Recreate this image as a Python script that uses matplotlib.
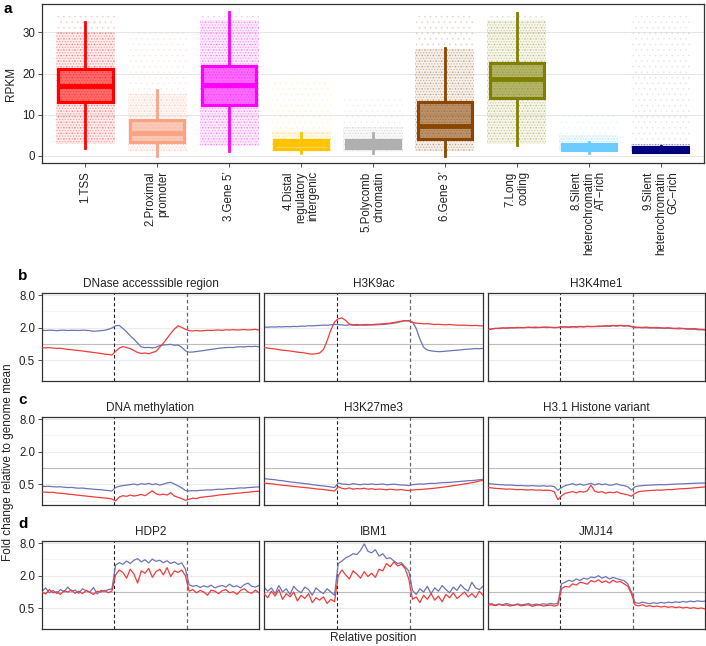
import numpy as np
import matplotlib
matplotlib.use('Agg')
import matplotlib.pyplot as plt

plt.rcParams['font.family'] = ['Liberation Sans', 'DejaVu Sans']
plt.rcParams['hatch.linewidth'] = 0.6

W, H = 706, 646

# ---- panel a: RPKM per chromatin state ----
categories = ['1.TSS', '2.Proximal\npromoter', '3.Gene 5’', '4.Distal\nregulatory\nintergenic',
              '5.Polycomb\nchromatin', '6.Gene 3’', '7.Long\ncoding',
              '8.Silent\nheterochromatin\nAT−rich', '9.Silent\nheterochromatin\nGC−rich']
state_colors = ['#FF0000', '#F9A385', '#FF00FF', '#FFC300', '#AFAFAF',
                '#8B4500', '#808000', '#6CCBFF', '#00007F']
whisker_lo = [2.0, 0.0, 1.3, 0.7, 0.7, 0.0, 2.7, 0.7, 1.0]
q1 = [13.2, 3.3, 12.5, 1.6, 1.9, 4.2, 14.2, 1.4, 1.0]
median = [17.0, 5.5, 17.2, 2.9, 2.9, 7.4, 18.6, 2.2, 1.6]
q3 = [21.0, 8.7, 21.9, 4.0, 3.9, 13.2, 22.6, 2.8, 2.1]
whisker_hi = [32.6, 16.0, 35.0, 5.5, 5.5, 26.1, 34.6, 3.5, 2.5]
# extent of the jittered point clouds
cloud_lo = [3.0, 1.0, 2.5, 1.0, 1.0, 1.2, 3.0, 1.0, 1.0]
dense_hi = [30.0, 15.0, 33.0, 6.0, 7.0, 26.0, 33.0, 5.0, 3.0]
cloud_hi = [35.0, 30.0, 35.0, 19.0, 14.0, 35.0, 35.0, 10.0, 35.0]
cloud_alpha = [0.15, 0.15, 0.15, 0.12, 0.12, 0.15, 0.15, 0.10, 0.07]

# ---- panels b-d: log2 fold change profiles (60 bins, flanks at 0-1 and 2-3) ----
dnase_blue = [0.84, 0.83, 0.85, 0.84, 0.82, 0.84, 0.85, 0.83, 0.84, 0.84, 0.83, 0.85, 0.84, 0.82, 0.78,
              0.80, 0.82, 0.84, 0.90, 0.98, 1.12, 1.14, 0.95, 0.75, 0.50, 0.30, 0.05, -0.18, -0.22, -0.21,
              -0.24, -0.20, -0.10, -0.06, -0.04, -0.02, -0.08, -0.06, -0.20, -0.42, -0.50, -0.49, -0.46, -0.43, -0.40,
              -0.36, -0.33, -0.30, -0.26, -0.24, -0.22, -0.21, -0.22, -0.18, -0.17, -0.18, -0.15, -0.16, -0.14, -0.17]
dnase_red = [-0.22, -0.24, -0.22, -0.25, -0.27, -0.26, -0.30, -0.33, -0.35, -0.38, -0.40, -0.43, -0.46, -0.49, -0.52,
             -0.55, -0.58, -0.62, -0.64, -0.68, -0.45, -0.25, -0.16, -0.22, -0.28, -0.40, -0.52, -0.58, -0.55, -0.60,
             -0.52, -0.45, -0.20, 0.05, 0.35, 0.65, 0.92, 1.12, 1.02, 0.90, 0.82, 0.80, 0.83, 0.80, 0.82,
             0.84, 0.83, 0.85, 0.86, 0.84, 0.87, 0.86, 0.88, 0.86, 0.87, 0.89, 0.86, 0.88, 0.90, 0.86]
h3k9ac_blue = [1.04, 1.03, 1.05, 1.04, 1.06, 1.05, 1.07, 1.06, 1.08, 1.07, 1.10, 1.09, 1.12, 1.11, 1.13,
               1.14, 1.16, 1.15, 1.18, 1.20, 1.19, 1.17, 1.15, 1.18, 1.16, 1.14, 1.17, 1.15, 1.16, 1.18,
               1.17, 1.19, 1.20, 1.22, 1.25, 1.28, 1.32, 1.38, 1.42, 1.43, 1.35, 0.95, 0.30, -0.20, -0.37,
               -0.42, -0.45, -0.47, -0.46, -0.44, -0.42, -0.40, -0.38, -0.36, -0.33, -0.32, -0.30, -0.28, -0.29, -0.27]
h3k9ac_red = [-0.22, -0.25, -0.28, -0.30, -0.35, -0.38, -0.40, -0.43, -0.46, -0.50, -0.52, -0.55, -0.60, -0.62, -0.60,
              -0.55, -0.35, 0.20, 0.85, 1.35, 1.55, 1.60, 1.45, 1.22, 1.18, 1.20, 1.17, 1.19, 1.20, 1.18,
              1.21, 1.22, 1.24, 1.26, 1.28, 1.32, 1.36, 1.40, 1.44, 1.42, 1.33, 1.28, 1.26, 1.24, 1.25,
              1.22, 1.20, 1.21, 1.19, 1.18, 1.20, 1.17, 1.16, 1.15, 1.16, 1.14, 1.13, 1.14, 1.12, 1.11]
h3k4me1_blue = [0.90, 0.93, 0.95, 0.97, 0.98, 0.97, 0.99, 1.00, 0.99, 1.01, 1.00, 1.02, 1.01, 1.00, 1.02,
                1.03, 1.01, 1.02, 1.00, 1.01, 1.03, 1.04, 1.02, 1.05, 1.04, 1.06, 1.05, 1.07, 1.06, 1.08,
                1.07, 1.09, 1.10, 1.08, 1.12, 1.10, 1.13, 1.11, 1.12, 1.06, 1.00, 1.01, 0.99, 1.00, 0.98,
                0.99, 0.97, 0.98, 0.96, 0.97, 0.95, 0.94, 0.93, 0.95, 0.92, 0.90, 0.91, 0.88, 0.87, 0.86]
h3k4me1_red = [0.88, 0.92, 0.96, 0.95, 0.99, 0.98, 1.00, 0.99, 1.02, 1.00, 1.01, 1.03, 1.02, 1.04, 1.01,
               1.03, 1.04, 1.02, 1.01, 1.02, 1.05, 1.06, 1.04, 1.07, 1.05, 1.08, 1.06, 1.09, 1.08, 1.07,
               1.10, 1.09, 1.12, 1.11, 1.14, 1.12, 1.15, 1.10, 1.13, 1.08, 1.04, 1.03, 1.02, 1.04, 1.01,
               1.00, 1.02, 0.99, 0.98, 1.00, 0.97, 0.96, 0.98, 0.95, 0.94, 0.93, 0.95, 0.92, 0.90, 0.89]
dnameth_blue = [-1.12, -1.13, -1.12, -1.15, -1.16, -1.15, -1.18, -1.20, -1.19, -1.22, -1.24, -1.23, -1.26, -1.28, -1.30,
                -1.32, -1.33, -1.36, -1.38, -1.41, -1.20, -1.12, -1.08, -1.05, -1.02, -0.98, -1.04, -0.96, -1.00, -0.94,
                -1.02, -0.97, -1.05, -0.99, -0.92, -0.88, -0.98, -1.10, -1.22, -1.38, -1.41, -1.39, -1.40, -1.37, -1.36,
                -1.34, -1.35, -1.32, -1.30, -1.31, -1.28, -1.26, -1.27, -1.24, -1.22, -1.23, -1.20, -1.19, -1.17, -1.16]
dnameth_red = [-1.47, -1.48, -1.50, -1.49, -1.53, -1.55, -1.57, -1.60, -1.62, -1.65, -1.67, -1.70, -1.72, -1.75, -1.77,
               -1.80, -1.82, -1.84, -1.86, -1.90, -2.02, -1.78, -1.70, -1.74, -1.66, -1.72, -1.68, -1.62, -1.70, -1.55,
               -1.40, -1.58, -1.65, -1.60, -1.66, -1.52, -1.72, -1.80, -1.88, -1.98, -1.92, -1.85, -1.88, -1.80, -1.78,
               -1.75, -1.73, -1.70, -1.66, -1.64, -1.62, -1.60, -1.57, -1.55, -1.53, -1.50, -1.49, -1.46, -1.44, -1.43]
h3k27_blue = [-0.65, -0.68, -0.70, -0.72, -0.76, -0.78, -0.82, -0.85, -0.88, -0.90, -0.93, -0.96, -0.98, -1.02, -1.05,
              -1.08, -1.10, -1.13, -1.16, -1.20, -0.92, -0.98, -1.00, -1.02, -0.96, -1.00, -1.03, -0.98, -1.01, -0.97,
              -1.02, -1.00, -0.98, -1.03, -1.01, -0.99, -1.02, -1.04, -1.05, -1.08, -1.02, -1.00, -0.98, -0.99, -0.96,
              -0.94, -0.95, -0.92, -0.90, -0.89, -0.88, -0.86, -0.84, -0.82, -0.80, -0.78, -0.77, -0.75, -0.72, -0.70]
h3k27_red = [-0.92, -0.95, -0.97, -1.00, -1.03, -1.06, -1.08, -1.10, -1.13, -1.15, -1.18, -1.20, -1.22, -1.25, -1.28,
             -1.30, -1.32, -1.35, -1.38, -1.41, -1.15, -1.25, -1.28, -1.22, -1.30, -1.26, -1.28, -1.24, -1.30, -1.27,
             -1.32, -1.29, -1.31, -1.34, -1.30, -1.33, -1.35, -1.32, -1.36, -1.38, -1.35, -1.33, -1.32, -1.30, -1.28,
             -1.26, -1.24, -1.21, -1.18, -1.15, -1.12, -1.08, -1.05, -1.02, -0.98, -0.94, -0.90, -0.86, -0.80, -0.76]
h31_blue = [-0.96, -0.98, -1.00, -1.02, -1.03, -1.05, -1.04, -1.06, -1.08, -1.07, -1.09, -1.10, -1.08, -1.10, -1.11,
            -1.09, -1.12, -1.10, -1.14, -1.37, -1.20, -1.08, -1.02, -0.96, -1.05, -0.98, -1.06, -1.00, -0.94, -1.04,
            -0.96, -1.02, -0.98, -1.06, -1.03, -0.97, -1.05, -1.08, -1.15, -1.35, -1.15, -1.10, -1.08, -1.06, -1.05,
            -1.04, -1.03, -1.02, -1.03, -1.01, -1.00, -0.99, -0.98, -0.97, -0.96, -0.95, -0.94, -0.93, -0.92, -0.92]
h31_red = [-1.20, -1.22, -1.25, -1.26, -1.28, -1.30, -1.29, -1.31, -1.33, -1.32, -1.34, -1.35, -1.33, -1.36, -1.35,
           -1.37, -1.36, -1.38, -1.45, -1.94, -1.70, -1.55, -1.50, -1.45, -1.52, -1.44, -1.48, -1.40, -1.05, -1.42,
           -1.50, -1.45, -1.55, -1.48, -1.52, -1.46, -1.55, -1.60, -1.65, -1.73, -1.55, -1.45, -1.42, -1.40, -1.38,
           -1.37, -1.35, -1.36, -1.34, -1.32, -1.33, -1.30, -1.28, -1.27, -1.26, -1.24, -1.22, -1.20, -1.18, -1.16]
hdp2_blue = [0.05, 0.25, -0.05, 0.10, -0.10, 0.15, 0.02, 0.30, 0.05, 0.12, -0.08, 0.20, 0.08, 0.00, 0.28,
             -0.12, 0.10, 0.05, 0.15, 0.18, 1.65, 1.80, 1.70, 1.90, 1.75, 1.95, 2.05, 1.85, 1.98, 1.78,
             2.02, 1.88, 1.95, 1.80, 1.92, 1.75, 1.85, 1.70, 1.78, 1.40, 0.45, 0.35, 0.40, 0.28, 0.38,
             0.30, 0.42, 0.25, 0.35, 0.40, 0.30, 0.48, 0.32, 0.38, 0.25, 0.45, 0.55, 0.35, 0.30, 0.40]
hdp2_red = [0.00, -0.12, 0.15, -0.05, 0.02, -0.15, 0.08, 0.00, 0.12, -0.08, 0.05, -0.10, 0.10, -0.02, -0.15,
            0.05, 0.00, 0.10, -0.05, 0.05, 1.05, 1.35, 1.20, 0.85, 1.40, 1.10, 0.55, 1.30, 1.15, 1.45,
            0.90, 1.25, 1.40, 1.05, 1.50, 0.95, 1.30, 1.20, 1.35, 1.00, 0.05, 0.15, -0.05, 0.10, 0.00,
            -0.20, 0.12, 0.05, -0.10, 0.08, 0.15, -0.05, 0.02, -0.15, 0.10, 0.20, 0.00, -0.08, 0.12, -0.05]
ibm1_blue = [0.30, 0.05, 0.25, -0.10, 0.40, 0.00, 0.20, -0.15, 0.35, 0.10, -0.05, 0.30, 0.15, -0.20, 0.25,
             0.05, -0.10, 0.20, 0.00, -0.20, 1.75, 1.90, 2.10, 2.20, 2.35, 2.30, 2.55, 2.95, 2.50, 2.40,
             2.60, 2.20, 2.35, 2.05, 2.10, 1.90, 1.75, 1.80, 1.55, 1.30, 0.10, -0.15, 0.20, 0.00, 0.35,
             -0.10, 0.25, 0.05, 0.40, 0.15, -0.05, 0.30, 0.10, 0.45, 0.20, 0.05, 0.60, 0.25, 0.15, 0.35]
ibm1_red = [-0.10, -0.35, 0.05, -0.25, 0.15, -0.45, -0.10, -0.30, 0.00, -0.55, -0.20, -0.40, -0.10, -0.65, -0.35,
            -0.50, -0.30, -0.70, -0.45, -0.60, 1.00, 1.35, 1.05, 0.80, 1.30, 1.10, 0.85, 1.25, 0.95, 1.15,
            0.90, 1.40, 1.30, 1.75, 1.55, 1.85, 1.60, 1.70, 1.45, 0.80, -0.45, -0.30, -0.65, -0.20, -0.45,
            -0.10, -0.50, -0.25, -0.60, -0.15, -0.35, -0.05, -0.40, -0.20, 0.00, -0.30, -0.10, -0.35, 0.05, -0.20]
jmj14_blue = [-0.75, -0.72, -0.80, -0.74, -0.78, -0.70, -0.77, -0.82, -0.73, -0.79, -0.76, -0.71, -0.80, -0.74, -0.78,
              -0.72, -0.76, -0.70, -0.75, -0.68, 0.50, 0.60, 0.72, 0.65, 0.80, 0.70, 0.85, 0.78, 0.92, 0.88,
              1.00, 0.85, 0.95, 0.80, 0.90, 0.82, 0.75, 0.70, 0.50, 0.00, -0.65, -0.70, -0.62, -0.68, -0.72,
              -0.66, -0.70, -0.64, -0.68, -0.62, -0.66, -0.60, -0.64, -0.58, -0.62, -0.56, -0.60, -0.54, -0.58, -0.56]
jmj14_red = [-0.80, -0.78, -0.84, -0.76, -0.82, -0.79, -0.86, -0.80, -0.77, -0.85, -0.81, -0.78, -0.88, -0.82, -0.79,
             -0.86, -0.83, -0.80, -0.87, -0.80, 0.20, 0.35, 0.30, 0.50, 0.42, 0.60, 0.55, 0.48, 0.70, 0.62,
             0.75, 0.58, 0.68, 0.55, 0.72, 0.60, 0.65, 0.50, 0.35, -0.10, -0.80, -0.85, -0.78, -0.88, -0.84,
             -0.90, -0.86, -0.92, -0.88, -0.94, -0.90, -0.96, -0.92, -0.98, -0.94, -1.00, -0.96, -1.02, -0.98, -1.04]

row_titles = [['DNase accesssible region', 'H3K9ac', 'H3K4me1'],
              ['DNA methylation', 'H3K27me3', 'H3.1 Histone variant'],
              ['HDP2', 'IBM1', 'JMJ14']]
row_blue = [[dnase_blue, h3k9ac_blue, h3k4me1_blue],
            [dnameth_blue, h3k27_blue, h31_blue],
            [hdp2_blue, ibm1_blue, jmj14_blue]]
row_red = [[dnase_red, h3k9ac_red, h3k4me1_red],
           [dnameth_red, h3k27_red, h31_red],
           [hdp2_red, ibm1_red, jmj14_red]]
row_letters = ['b', 'c', 'd']

BLUE = '#6B75B5'
RED = '#F23B3B'
FRAME = '#333333'
TXT = '#222222'


def px_rect(left, top, right, bottom):
    return [left / W, 1 - bottom / H, (right - left) / W, (bottom - top) / H]


fig = plt.figure(figsize=(W / 100, H / 100), dpi=100)

# ---------- panel a ----------
ax = fig.add_axes(px_rect(42, 4, 704, 163))
pos = np.arange(1, len(categories) + 1)
for i, c in enumerate(state_colors):
    # sparse outer part of the jitter cloud
    ax.bar(pos[i], cloud_hi[i] - cloud_lo[i], bottom=cloud_lo[i], width=0.82,
           facecolor='none', edgecolor=c, alpha=cloud_alpha[i], hatch='...', linewidth=0, zorder=1)
    # dense part
    ax.bar(pos[i], dense_hi[i] - cloud_lo[i], bottom=cloud_lo[i], width=0.82,
           facecolor='none', edgecolor=c, alpha=0.3, hatch='......', linewidth=0, zorder=1)
    ax.bar(pos[i], dense_hi[i] - cloud_lo[i], bottom=cloud_lo[i], width=0.82,
           color=c, alpha=0.07, linewidth=0, zorder=1)

stats = [dict(whislo=whisker_lo[i], q1=q1[i], med=median[i], q3=q3[i], whishi=whisker_hi[i])
         for i in range(len(categories))]
bp = ax.bxp(stats, positions=pos, widths=0.76, patch_artist=True, showcaps=False,
            showfliers=False, manage_ticks=False)
for i, c in enumerate(state_colors):
    bp['boxes'][i].set(facecolor=c, alpha=0.55, edgecolor=c, linewidth=2.2, zorder=3)
    bp['medians'][i].set(color=c, linewidth=3.5, solid_capstyle='butt', zorder=4)
    for w in bp['whiskers'][2 * i:2 * i + 2]:
        w.set(color=c, linewidth=2.0, zorder=2.5)
# boxes drawn with alpha: redraw outline opaque
for i, c in enumerate(state_colors):
    ax.add_patch(plt.Rectangle((pos[i] - 0.38, q1[i]), 0.76, q3[i] - q1[i], fill=False,
                               edgecolor=c, linewidth=2.2, zorder=3.5))

ax.set_xlim(0.4, 9.6)
ax.set_ylim(-1.7, 36.9)
ax.set_yticks([0, 10, 20, 30])
ax.set_xticks(pos)
ax.set_xticklabels(categories, rotation=90, ha='center', va='top', multialignment='right',
                   fontsize=8.3, color=TXT, linespacing=1.05)
ax.tick_params(axis='y', labelsize=8.3, labelcolor=TXT, length=3, width=0.6, color=FRAME, pad=2)
ax.tick_params(axis='x', length=3, width=0.6, color=FRAME, pad=3)
ax.grid(axis='y', color='#E6E6E6', linewidth=0.7)
ax.set_axisbelow(True)
for s in ax.spines.values():
    s.set_color(FRAME)
    s.set_linewidth(0.9)
ax.set_ylabel('RPKM', fontsize=8.5, color=TXT, labelpad=4)
fig.text(3 / W, 1 - 2 / H, 'a', fontsize=11, fontweight='bold', ha='left', va='top')

# ---------- panels b-d ----------
col_lr = [(42, 259), (264, 483), (488, 705)]
row_tb = [(293, 381), (417, 505), (541, 629)]
x = np.linspace(0, 3, 60)
for r in range(3):
    top, bottom = row_tb[r]
    for c in range(3):
        left, right = col_lr[c]
        a = fig.add_axes(px_rect(left, top, right, bottom))
        a.set_yscale('log', base=2)
        a.set_ylim(2 ** -2.27, 2 ** 3.13)
        a.set_xlim(0, 3)
        for gy in [0.25, 4.0]:
            a.axhline(gy, color='#F2F2F2', linewidth=0.6, zorder=0)
        for gy in [0.5, 2.0, 8.0]:
            a.axhline(gy, color='#EBEBEB', linewidth=0.8, zorder=0)
        a.axhline(1.0, color='#BDBDBD', linewidth=0.8, zorder=0.5)
        a.axvline(1, color='#222222', linewidth=0.8, linestyle=(0, (3, 2.2)), zorder=1)
        a.axvline(2, color='#666666', linewidth=0.9, linestyle=(0, (3, 2.2)), zorder=1)
        a.plot(x, 2 ** np.array(row_blue[r][c]), color=BLUE, linewidth=0.9, zorder=2)
        a.plot(x, 2 ** np.array(row_red[r][c]), color=RED, linewidth=0.9, zorder=3)
        a.set_xticks([])
        a.minorticks_off()
        if c == 0:
            a.set_yticks([0.5, 2.0, 8.0])
            a.set_yticklabels(['0.5', '2.0', '8.0'])
            a.tick_params(axis='y', labelsize=8.3, labelcolor=TXT, length=3, width=0.6,
                          color=FRAME, pad=2)
        else:
            a.set_yticks([])
        for s in a.spines.values():
            s.set_color(FRAME)
            s.set_linewidth(0.9)
        a.set_title(row_titles[r][c], fontsize=8.5, color=TXT, pad=4)
    fig.text(18 / W, 1 - (top - 10) / H, row_letters[r], fontsize=11, fontweight='bold',
             ha='left', va='bottom')

fig.text(8 / W, 1 - 462 / H, 'Fold change relative to genome mean', rotation=90,
         fontsize=8.5, color=TXT, ha='center', va='center')
fig.text(373 / W, 1 - 638 / H, 'Relative position', fontsize=8.5, color=TXT,
         ha='center', va='center')

fig.savefig('out.png', dpi=100)
